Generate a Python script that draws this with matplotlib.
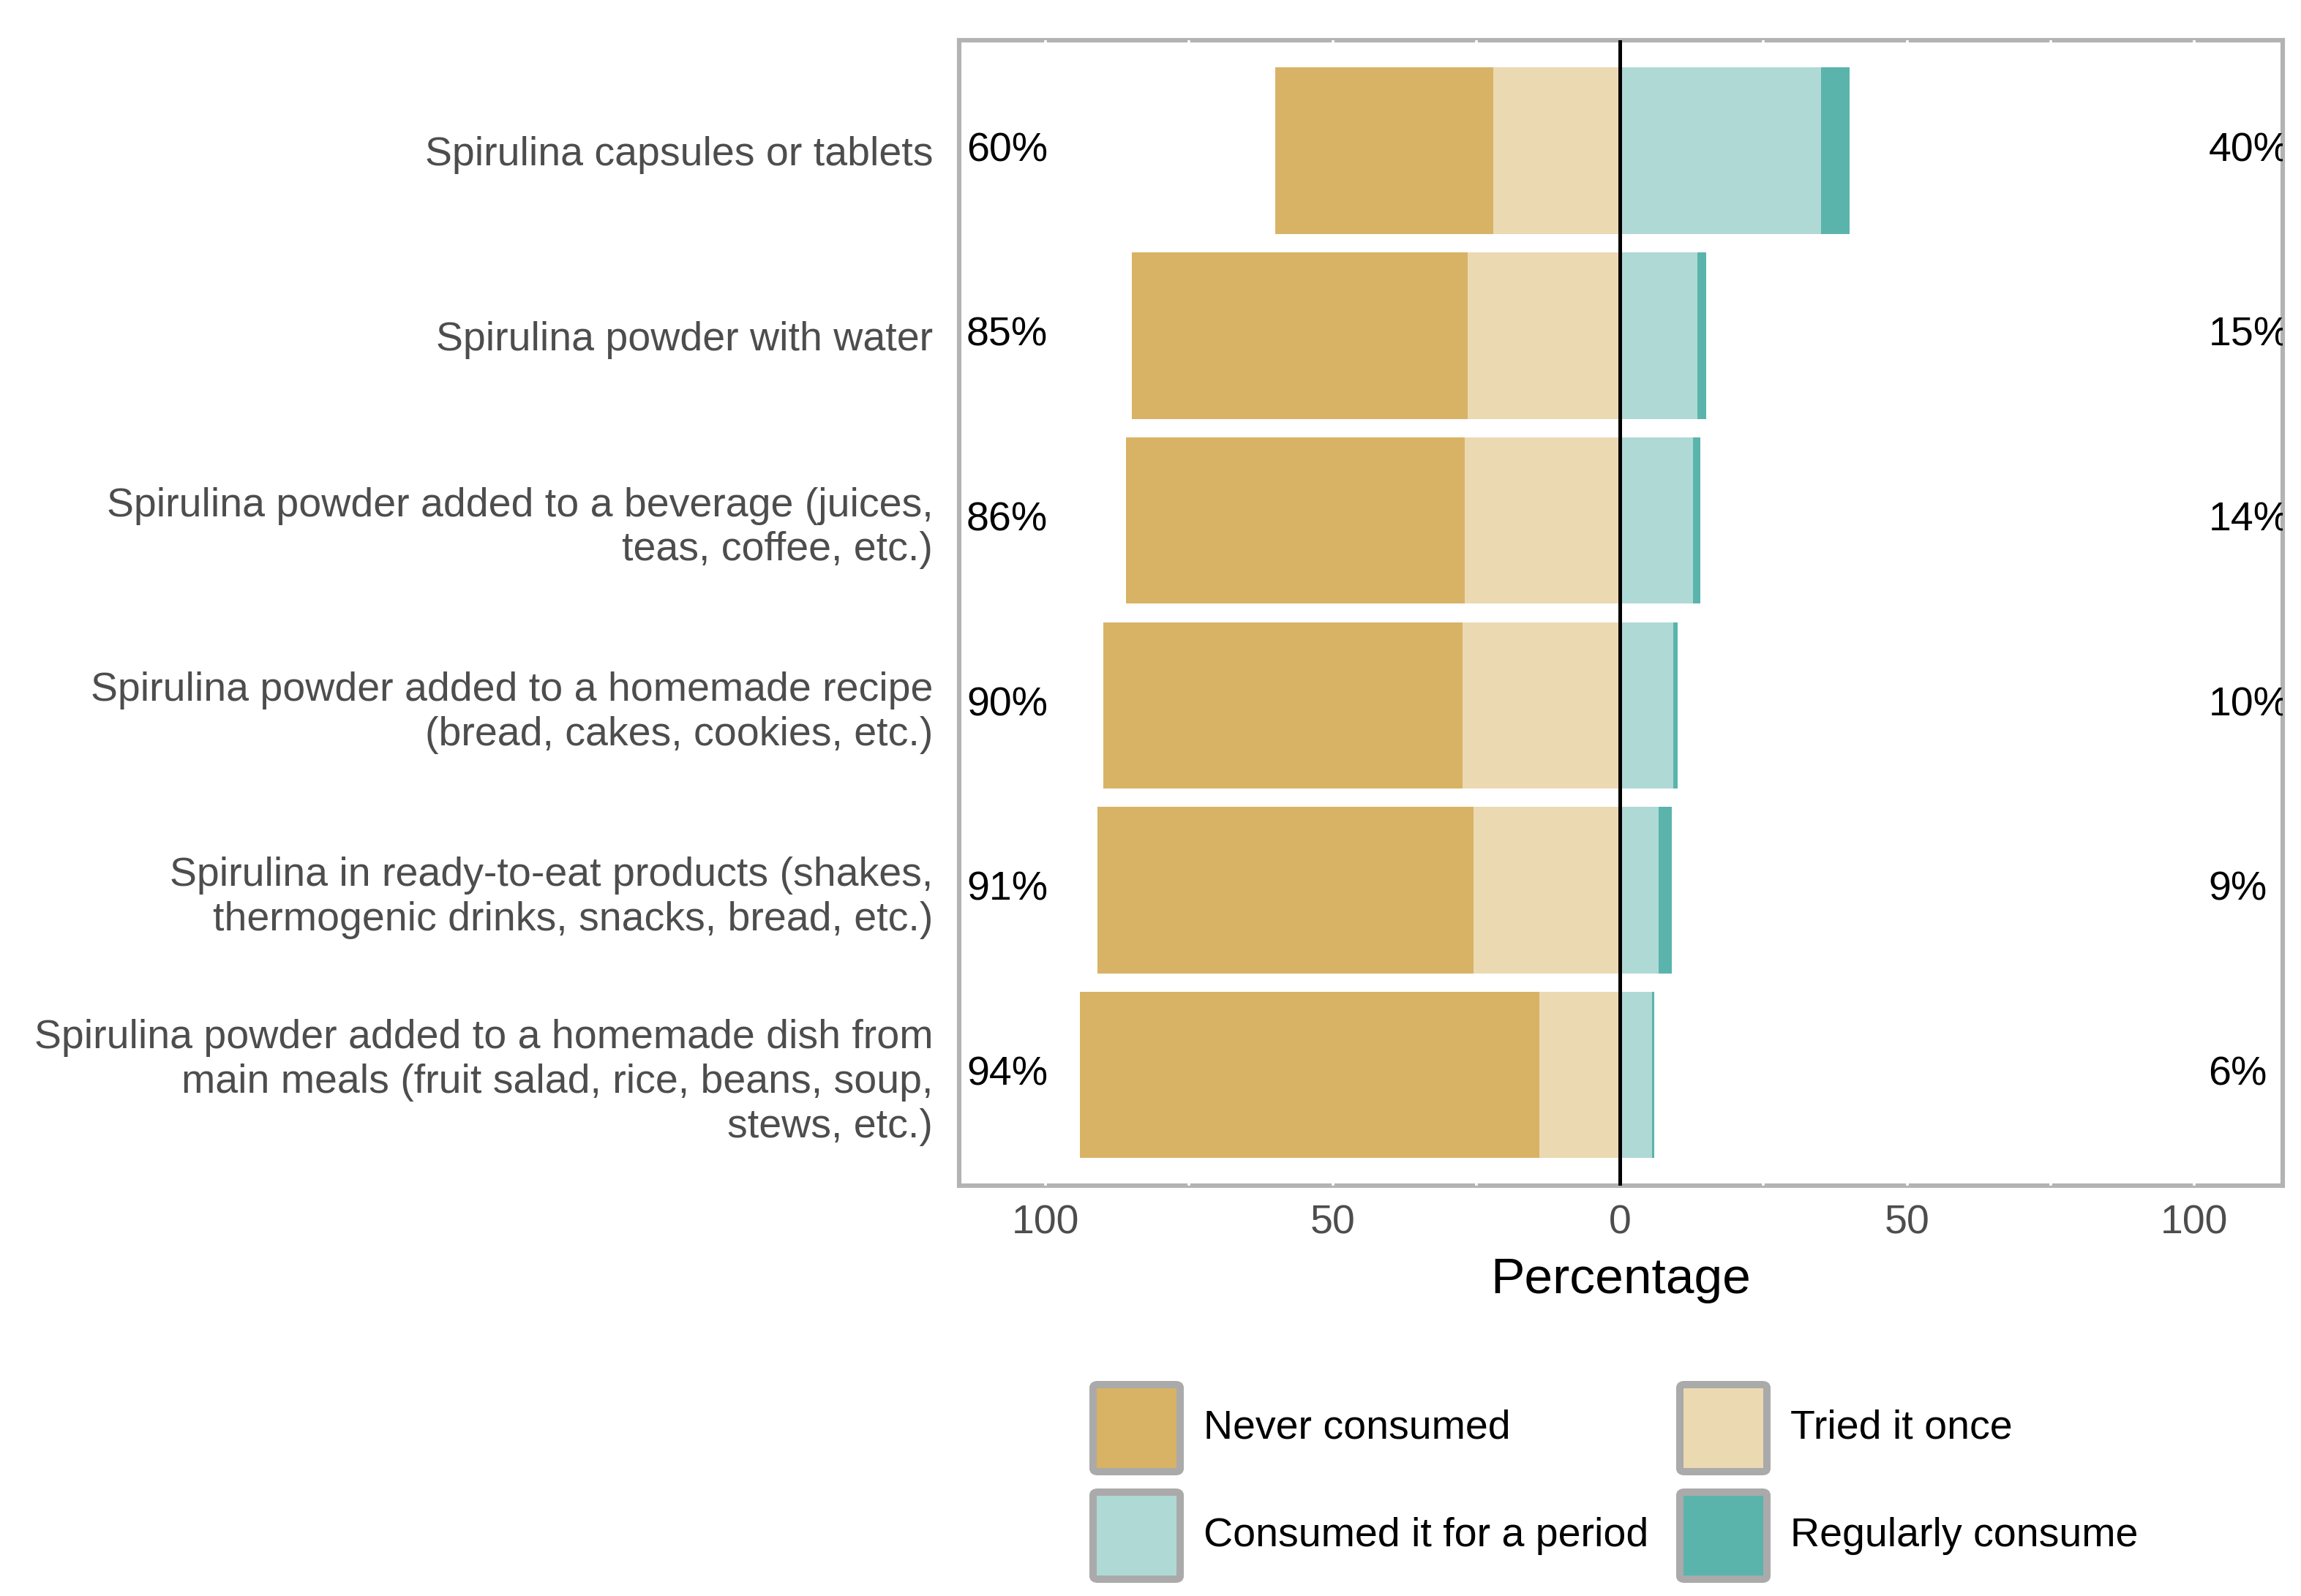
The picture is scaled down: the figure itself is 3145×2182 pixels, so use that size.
import matplotlib.pyplot as plt
from matplotlib.patches import FancyBboxPatch
import numpy as np

plt.rcParams['font.family'] = ['Liberation Sans', 'DejaVu Sans']

items = [
    "Spirulina capsules or tablets",
    "Spirulina powder with water",
    "Spirulina powder added to a beverage (juices,\nteas, coffee, etc.)",
    "Spirulina powder added to a homemade recipe\n(bread, cakes, cookies, etc.)",
    "Spirulina in ready-to-eat products (shakes,\nthermogenic drinks, snacks, bread, etc.)",
    "Spirulina powder added to a homemade dish from\nmain meals (fruit salad, rice, beans, soup,\nstews, etc.)",
]
never = [38.0, 58.5, 59.0, 62.6, 65.5, 80.0]
tried = [22.0, 26.5, 27.0, 27.4, 25.5, 14.0]
period = [35.0, 13.5, 12.7, 9.3, 6.8, 5.6]
regular = [5.0, 1.5, 1.3, 0.7, 2.2, 0.4]
left_lab = ["60%", "85%", "86%", "90%", "91%", "94%"]
right_lab = ["40%", "15%", "14%", "10%", "9%", "6%"]
cats = ["Never consumed", "Tried it once", "Consumed it for a period", "Regularly consume"]
colors = ["#D8B365", "#EBD9B2", "#AFD9D5", "#5AB4AC"]

fig = plt.figure(figsize=(15.725, 10.91), dpi=200)
ax = fig.add_axes([0.417, 0.257, 0.575, 0.718])

y = np.arange(len(items))[::-1] + 1
never = np.array(never); tried = np.array(tried)
period = np.array(period); regular = np.array(regular)
h = 0.9
ax.barh(y, -tried, height=h, color=colors[1], linewidth=0, zorder=3)
ax.barh(y, -never, left=-tried, height=h, color=colors[0], linewidth=0, zorder=3)
ax.barh(y, period, height=h, color=colors[2], linewidth=0, zorder=3)
ax.barh(y, regular, left=period, height=h, color=colors[3], linewidth=0, zorder=3)

for yy, l, r in zip(y, left_lab, right_lab):
    ax.text(-113.8, yy, l, ha='left', va='center', fontsize=20, color='black', zorder=5, clip_on=True)
    ax.text(102.5, yy, r, ha='left', va='center', fontsize=20, color='black', zorder=5, clip_on=True)

ax.set_xlim(-115, 115.4)
ax.set_ylim(0.4, 6.6)
ax.axvline(0, color='black', lw=1.8, zorder=3.5)
# white grid lines: only visible where they cross the grey border
for gx in [-100, -75, -50, -25, 25, 50, 75, 100]:
    ax.axvline(gx, color='white', lw=1.3, zorder=2.6)

for s in ax.spines.values():
    s.set_color('#B3B3B3')
    s.set_linewidth(2.2)
    s.set_zorder(2.5)

ax.set_yticks(y)
ax.set_yticklabels(items, fontsize=20, color='#4D4D4D', linespacing=1.22)
ax.set_xticks([-100, -50, 0, 50, 100])
ax.set_xticklabels(["100", "50", "0", "50", "100"], fontsize=20, color='#4D4D4D')
ax.tick_params(axis='y', length=0, pad=13)
ax.tick_params(axis='x', length=0, pad=9)
ax.set_xlabel("Percentage", fontsize=25, color='black', labelpad=7)

# legend
W, H = 3145.0, 2182.0
kx = [1494, 2296]
ky = [1893, 2040]
ks = 119
for i, (cat, c) in enumerate(zip(cats, colors)):
    col = i % 2
    row = i // 2
    x0 = kx[col] / W
    y0 = 1 - (ky[row] + ks) / H
    box = FancyBboxPatch((x0, y0), ks / W, ks / H, boxstyle="round,pad=0,rounding_size=0.002",
                         transform=fig.transFigure, facecolor=c, edgecolor='#AAAAAA', linewidth=3.6)
    fig.add_artist(box)
    fig.text((kx[col] + 151) / W, 1 - (ky[row] + ks / 2) / H, cat, fontsize=20,
             color='black', ha='left', va='center')

fig.savefig("out.png", dpi=200)
